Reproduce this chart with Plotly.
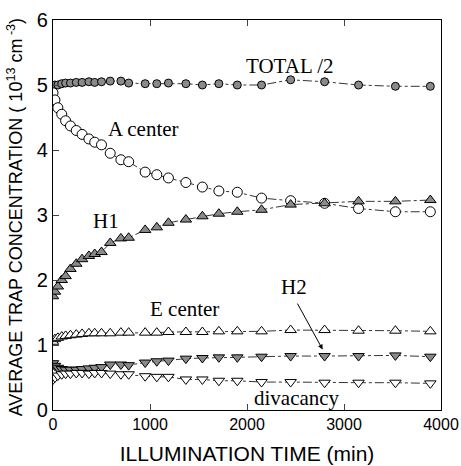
import plotly.graph_objects as go

time_min = [0, 20, 50, 90, 130, 180, 240, 300, 370, 430, 500, 590, 700, 780, 950,
            1070, 1190, 1370, 1540, 1710, 1900, 2150, 2450, 2800, 3150, 3530, 3890]
total_half = [4.97, 5.00, 5.00, 5.02, 5.03, 5.03, 5.04, 5.04, 5.05, 5.04, 5.05, 5.06, 5.06, 5.03,
              5.02, 5.02, 5.03, 5.02, 5.00, 5.02, 5.00, 5.00, 5.08, 5.05, 5.00, 4.98, 4.98]
a_center = [4.88, 4.77, 4.65, 4.55, 4.45, 4.37, 4.30, 4.24, 4.17, 4.12, 4.08, 3.95, 3.85, 3.82,
            3.66, 3.62, 3.57, 3.50, 3.43, 3.37, 3.35, 3.26, 3.22, 3.18, 3.10, 3.05, 3.05]
h1 = [1.75, 1.82, 1.90, 2.00, 2.06, 2.17, 2.25, 2.32, 2.37, 2.40, 2.43, 2.57, 2.64, 2.65,
      2.77, 2.81, 2.88, 2.93, 2.98, 3.02, 3.05, 3.08, 3.16, 3.18, 3.21, 3.21, 3.23]
e_center = [1.05, 1.09, 1.11, 1.13, 1.14, 1.15, 1.16, 1.17, 1.18, 1.18, 1.18, 1.18, 1.19, 1.19,
            1.19, 1.19, 1.20, 1.20, 1.20, 1.21, 1.21, 1.21, 1.23, 1.23, 1.22, 1.22, 1.21]
h2 = [0.72, 0.68, 0.65, 0.63, 0.62, 0.62, 0.62, 0.63, 0.64, 0.65, 0.66, 0.70, 0.70, 0.69,
      0.73, 0.75, 0.76, 0.79, 0.80, 0.81, 0.81, 0.82, 0.83, 0.83, 0.83, 0.84, 0.82]
divacancy = [0.47, 0.50, 0.53, 0.55, 0.56, 0.56, 0.57, 0.57, 0.56, 0.57, 0.57, 0.56, 0.55, 0.55,
             0.52, 0.51, 0.51, 0.47, 0.47, 0.45, 0.45, 0.43, 0.43, 0.42, 0.42, 0.42, 0.41]

x_ticks = [0, 1000, 2000, 3000, 4000]
y_ticks = [0, 1, 2, 3, 4, 5, 6]

series = [
    ("TOTAL /2", total_half, "circle", "#8a8a8a", 8),
    ("A center", a_center, "circle", "white", 10),
    ("H1", h1, "triangle-up", "#8a8a8a", 10),
    ("E center", e_center, "triangle-up", "white", 10),
    ("H2", h2, "triangle-down", "#8a8a8a", 10),
    ("divacancy", divacancy, "triangle-down", "white", 10),
]

fig = go.Figure()
for name, vals, sym, fill, size in series:
    fig.add_trace(go.Scatter(
        x=time_min, y=vals, mode="lines+markers", name=name,
        line=dict(color="black", width=0.8, dash="dashdot"),
        marker=dict(symbol=sym, size=size, color=fill,
                    line=dict(color="black", width=1)),
        showlegend=False,
    ))

serif = "Liberation Serif"
labels = [
    ("TOTAL /2", 2443, 5.29),
    ("A center", 938, 4.33),
    ("H1", 546, 2.91),
    ("E center", 1351, 1.55),
    ("H2", 2485, 1.89),
    ("divacancy", 2512, 0.19),
]
for txt, x, y in labels:
    fig.add_annotation(x=x, y=y, text=txt, showarrow=False,
                       font=dict(family=serif, size=21, color="black"))

fig.add_annotation(x=2780, y=0.93, ax=2512, ay=1.66, xref="x", yref="y",
                   axref="x", ayref="y", text="", showarrow=True,
                   arrowhead=2, arrowsize=1, arrowwidth=1, arrowcolor="black")

fig.add_annotation(xref="paper", yref="paper", x=0, y=0.494, xshift=-38,
                   xanchor="center", yanchor="middle",
                   text="AVERAGE TRAP CONCENTRATION ( 10<sup>13</sup> cm<sup> -3</sup>)",
                   textangle=-90, showarrow=False,
                   font=dict(family="Liberation Sans", size=18, color="black"))

fig.update_layout(
    width=461, height=466,
    margin=dict(l=53, r=20, t=20, b=56, autoexpand=False),
    paper_bgcolor="white", plot_bgcolor="white",
    xaxis=dict(range=[0, 4000], tickvals=x_ticks, ticks="inside", ticklen=6,
               showline=True, linecolor="black", linewidth=1.2, mirror="ticks",
               showgrid=False, zeroline=False, automargin=False,
               tickfont=dict(family="Liberation Sans", size=16, color="black"),
               title=dict(text="ILLUMINATION TIME (min)", standoff=14,
                          font=dict(family="Liberation Sans", size=21, color="black"))),
    yaxis=dict(range=[0, 6], tickvals=y_ticks, ticks="inside", ticklen=6,
               showline=True, linecolor="black", linewidth=1.2, mirror=True,
               showgrid=False, zeroline=False, automargin=False,
               ticksuffix="\u00a0\u00a0\u00a0",
               tickfont=dict(family="Liberation Sans", size=20, color="black")),
)

fig.write_html("out.html")
